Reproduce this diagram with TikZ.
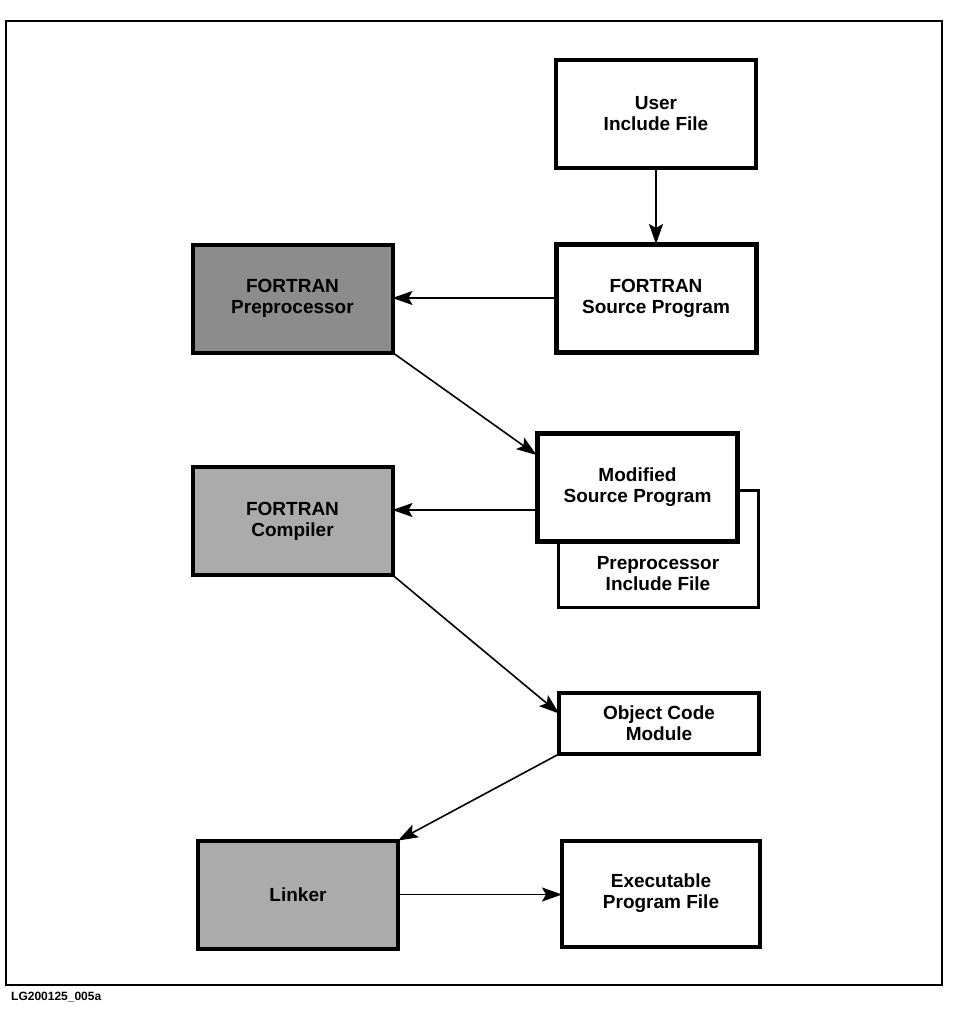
\documentclass[tikz,border=0pt]{standalone}
\usepackage{fontspec}
\setmainfont{Liberation Sans}
\usetikzlibrary{arrows.meta,calc}
\begin{document}
\begin{tikzpicture}[x=1pt,y=-1pt,
  boxfont/.style={font=\fontsize{19}{21}\selectfont\bfseries},
  box/.style={draw=black, fill=white, rectangle, outer sep=0pt, inner sep=0pt,
    minimum width=200pt, minimum height=108pt, align=center, boxfont},
  shaded/.style={box, fill=black!#1},
  thin/.style={line width=3pt},
  med/.style={line width=4pt},
  thick/.style={line width=5pt},
  conn/.style={line width=1.6pt, -{Stealth[length=20pt,width=14pt,inset=4pt]}}]
\useasboundingbox (0,0) rectangle (969,1009);
% frame
\draw[line width=2.5pt] (6,21) rectangle (942,985);
\node[anchor=west, inner sep=0pt, font=\fontsize{12}{14}\selectfont\bfseries] (lbl) at (11,997) {LG200125\_005a};
% boxes
\node[box, med] (user) at (656,114) {User\\Include File};
\node[box, thick] (src) at (656,298) {FORTRAN\\Source Program};
\node[shaded=45, med] (pre) at (292.5,298.5) {FORTRAN\\Preprocessor};
\node[box, thin, minimum height=117pt] (inc) at (658,548.5) {};
\node[box, thick] (mod) at (637.5,487) {Modified\\Source Program};
\node[inner sep=0pt, align=center, boxfont] (inctxt) at (658,574) {Preprocessor\\Include File};
\node[shaded=33, med] (comp) at (292.5,521) {FORTRAN\\Compiler};
\node[box, med, minimum height=61pt] (obj) at (659,723.5) {Object Code\\Module};
\node[shaded=33, med] (lnk) at (298,894.5) {Linker};
\node[box, med, minimum width=198pt, minimum height=106pt] (exe) at (661,893.5) {Executable\\Program File};
% connector end points
\coordinate (preIn) at ($(mod.north west)+(-1,22)$);
\coordinate (modOut) at ($(mod.south west)+(0,-31)$);
\coordinate (objIn) at ($(obj.west)+(0,-10)$);
% connectors
\draw[conn] (user.south) -- (src.north);
\draw[conn] (src.west) -- (src.west -| pre.east);
\draw[conn] (pre.south east) -- (preIn);
\draw[conn] (modOut) -- (modOut -| comp.east);
\draw[conn] (comp.south east) -- (objIn);
\draw[conn] (obj.south west) -- (lnk.north east);
\draw[conn] (lnk.east) -- (lnk.east -| exe.west);
\end{tikzpicture}
\end{document}
